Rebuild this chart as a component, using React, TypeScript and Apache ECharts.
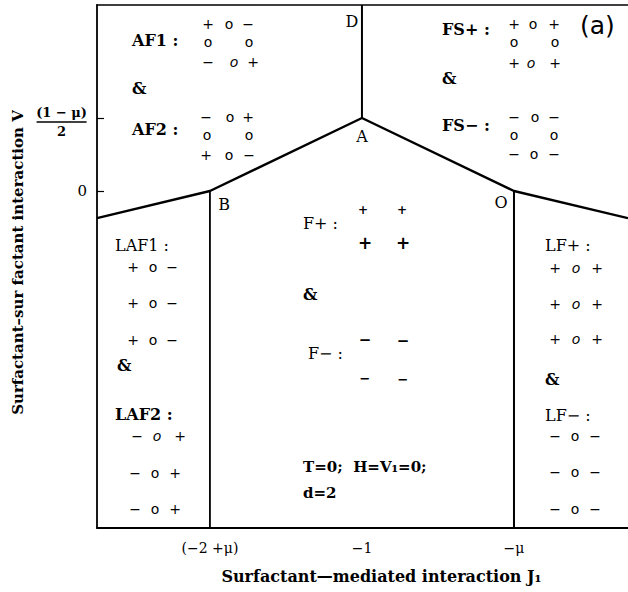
import React, { useEffect, useRef } from "react";
import * as echarts from "echarts";

// ---- model values (phase diagram, mu taken as 0.3) ----
const MU = 0.3;
const J_B = -2 + MU;
const J_A = -1;
const J_O = -MU;
const V_A = (1 - MU) / 2;
const V_EDGE = -0.13;
const J_RANGE = [-2.22, 0.225];
const V_RANGE = [-1.616, 0.892];

const xTickValues = [J_B, J_A, J_O];
const xTickLabels = ["(−2 +μ)", "−1", "−μ"];
const yTickValues = [0, V_A];

const boundaryUpper = [
  [J_RANGE[0], V_EDGE],
  [J_B, 0],
  [J_A, V_A],
  [J_O, 0],
  [J_RANGE[1], V_EDGE],
];
const boundaryD = [
  [J_A, V_RANGE[1]],
  [J_A, V_A],
];
const boundaryB = [
  [J_B, 0],
  [J_B, V_RANGE[0]],
];
const boundaryO = [
  [J_O, 0],
  [J_O, V_RANGE[0]],
];

// ---- annotation layout (pixel positions) ----
const SERIF = '"DejaVu Serif", serif';
const SANS = '"DejaVu Sans", sans-serif';

type Lab = [string, number, number, string];
const labels: Lab[] = [
  ["AF1 :", 132, 40, "bold 16px"],
  ["&", 132, 88, "bold 16px"],
  ["AF2 :", 132, 129, "bold 16px"],
  ["FS+ :", 442, 29, "bold 16px"],
  ["&", 442, 78, "bold 16px"],
  ["FS− :", 442, 125, "bold 16px"],
  ["LAF1 :", 115, 245, "16px"],
  ["&", 117, 365, "bold 16px"],
  ["LAF2 :", 115, 414, "bold 16px"],
  ["F+ :", 303, 223, "16px"],
  ["&", 303, 294, "bold 16px"],
  ["F− :", 308, 353, "16px"],
  ["LF+ :", 545, 245, "16px"],
  ["&", 545, 379, "bold 16px"],
  ["LF− :", 545, 415, "16px"],
  ["T=0;  H=V₁=0;", 303, 467, "bold 15px"],
  ["d=2", 303, 493, "bold 15px"],
];

const points: [string, number, number][] = [
  ["D", 352, 21],
  ["A", 362, 136],
  ["B", 224, 204],
  ["O", 501, 202],
];

type Sym = [string, number, number, number?];
const symbols: Sym[] = [
  // AF1
  ["+", 208, 24], ["o", 229, 24], ["−", 248, 24],
  ["o", 208, 42], ["o", 249, 42],
  ["−", 208, 62], ["o", 234, 62, 1], ["+", 253, 62],
  // AF2
  ["−", 206, 117], ["o", 230, 117], ["+", 248, 117],
  ["o", 207, 135], ["o", 249, 135],
  ["+", 206, 155], ["o", 229, 155], ["−", 249, 155],
  // FS+
  ["+", 514, 24], ["o", 533, 24], ["+", 554, 24],
  ["o", 514, 42], ["o", 555, 42],
  ["+", 514, 63], ["o", 531, 63, 1], ["+", 555, 63],
  // FS-
  ["−", 514, 117], ["o", 535, 117], ["−", 554, 117],
  ["o", 514, 135], ["o", 554, 135],
  ["−", 514, 154], ["o", 534, 154], ["−", 554, 154],
  // LAF1
  ["+", 133, 267], ["o", 153, 267], ["−", 172, 267],
  ["+", 133, 303], ["o", 153, 303], ["−", 172, 303],
  ["+", 133, 340], ["o", 153, 340], ["−", 172, 340],
  // LAF2
  ["−", 137, 436], ["o", 157, 436, 1], ["+", 180, 436],
  ["−", 135, 473], ["o", 155, 473], ["+", 175, 473],
  ["−", 135, 509], ["o", 155, 509], ["+", 175, 509],
  // LF+
  ["+", 555, 268], ["o", 576, 268, 1], ["+", 597, 268],
  ["+", 555, 304], ["o", 576, 304, 1], ["+", 597, 304],
  ["+", 555, 339], ["o", 576, 339, 1], ["+", 597, 339],
  // LF-
  ["−", 555, 436], ["o", 575, 436], ["−", 595, 436],
  ["−", 555, 472], ["o", 575, 472], ["−", 595, 472],
  ["−", 555, 509], ["o", 575, 509], ["−", 595, 509],
];

const bigSymbols: [string, number, number, string][] = [
  ["+", 363, 210, "bold 12px"],
  ["+", 402, 210, "bold 12px"],
  ["+", 365, 243, "bold 17px"],
  ["+", 403, 243, "bold 17px"],
  ["−", 365, 340, "bold 15px"],
  ["−", 403, 341, "bold 15px"],
  ["−", 365, 378, "bold 13px"],
  ["−", 403, 379, "bold 13px"],
];

const near = (arr: number[], v: number) =>
  arr.findIndex((a) => Math.abs(a - v) < 1e-6);

function buildGraphic() {
  const els: any[] = [];
  labels.forEach(([t, x, y, f]) =>
    els.push({
      type: "text",
      x,
      y,
      z: 10,
      style: {
        text: t,
        font: `${f} ${SERIF}`,
        fill: "#000",
        align: "left",
        verticalAlign: "middle",
      },
    })
  );
  points.forEach(([t, x, y]) =>
    els.push({
      type: "text",
      x,
      y,
      z: 10,
      style: {
        text: t,
        font: `16px ${SERIF}`,
        fill: "#000",
        align: "center",
        verticalAlign: "middle",
      },
    })
  );
  symbols.forEach(([t, x, y, it]) =>
    els.push({
      type: "text",
      x,
      y,
      z: 10,
      style: {
        text: t,
        font: `${it ? "italic " : ""}14px ${SANS}`,
        fill: "#000",
        align: "center",
        verticalAlign: "middle",
      },
    })
  );
  bigSymbols.forEach(([t, x, y, f]) =>
    els.push({
      type: "text",
      x,
      y,
      z: 10,
      style: {
        text: t,
        font: `${f} ${SANS}`,
        fill: "#000",
        align: "center",
        verticalAlign: "middle",
      },
    })
  );
  els.push({
    type: "text",
    x: 580,
    y: 25,
    z: 10,
    style: {
      text: "(a)",
      font: `25px ${SANS}`,
      fill: "#000",
      align: "left",
      verticalAlign: "middle",
    },
  });
  return els;
}

const lineSeries = (data: number[][], width: number) => ({
  type: "line",
  data,
  symbol: "none",
  silent: true,
  clip: false,
  lineStyle: { color: "#000", width },
});

export default function App() {
  const ref = useRef<HTMLDivElement>(null);
  useEffect(() => {
    const chart = echarts.init(ref.current as HTMLDivElement, null, {
      renderer: "svg",
    });
    chart.setOption({
      animation: false,
      backgroundColor: "#fff",
      grid: { left: 97, top: 5, right: 0, bottom: 64 },
      xAxis: [
        {
          type: "value",
          min: J_RANGE[0],
          max: J_RANGE[1],
          axisLine: { show: true, onZero: false, lineStyle: { color: "#000", width: 1.8 } },
          axisTick: { show: false },
          splitLine: { show: false },
          axisLabel: {
            customValues: xTickValues,
            formatter: (v: number) => xTickLabels[near(xTickValues, v)] ?? "",
            color: "#000",
            fontFamily: SERIF,
            fontSize: 14,
            margin: 13,
          },
          name: "Surfactant—mediated interaction J₁",
          nameLocation: "middle",
          nameGap: 40,
          nameTextStyle: {
            color: "#000",
            fontFamily: SERIF,
            fontWeight: "bold",
            fontSize: 16,
            padding: [0, 0, 0, 38],
          },
        },
        {
          type: "value",
          position: "top",
          min: J_RANGE[0],
          max: J_RANGE[1],
          axisLine: { show: true, onZero: false, lineStyle: { color: "#000", width: 1.6 } },
          axisTick: { show: false },
          axisLabel: { show: false },
          splitLine: { show: false },
        },
      ],
      yAxis: {
        type: "value",
        min: V_RANGE[0],
        max: V_RANGE[1],
        axisLine: { show: true, onZero: false, lineStyle: { color: "#000", width: 1.8 } },
        axisTick: {
          show: true,
          inside: true,
          length: 7,
          customValues: yTickValues,
          lineStyle: { color: "#000", width: 1.2 },
        },
        splitLine: { show: false },
        axisLabel: {
          customValues: yTickValues,
          margin: 10,
          formatter: (v: number) =>
            near(yTickValues, v) === 1
              ? "{sp|}\n{n|(1 − μ)}\n{bar|}\n{d|2}"
              : "{z|0}",
          rich: {
            sp: { height: 8, lineHeight: 8 },
            n: {
              fontFamily: SERIF,
              fontWeight: "bold",
              fontSize: 13,
              lineHeight: 14,
              color: "#000",
              align: "center",
            },
            bar: {
              width: 50,
              height: 1.4,
              lineHeight: 5,
              backgroundColor: "#000",
              align: "center",
            },
            d: {
              fontFamily: SERIF,
              fontWeight: "bold",
              fontSize: 13,
              lineHeight: 14,
              color: "#000",
              align: "center",
            },
            z: { fontFamily: SERIF, fontSize: 15, color: "#000" },
          },
        },
        name: "Surfactant–sur factant interaction V",
        nameLocation: "middle",
        nameRotate: 90,
        nameGap: 70,
        nameTextStyle: {
          color: "#000",
          fontFamily: SERIF,
          fontWeight: "bold",
          fontSize: 15,
          padding: [0, 0, 0, 8],
        },
      },
      series: [
        lineSeries(boundaryUpper, 2.4),
        lineSeries(boundaryD, 2),
        lineSeries(boundaryB, 1.8),
        lineSeries(boundaryO, 2),
      ],
      graphic: buildGraphic(),
    });
    return () => chart.dispose();
  }, []);
  return (
    <div
      ref={ref}
      style={{
        position: "absolute",
        left: 0,
        top: 0,
        width: 628,
        height: 592,
        background: "#fff",
      }}
    />
  );
}
